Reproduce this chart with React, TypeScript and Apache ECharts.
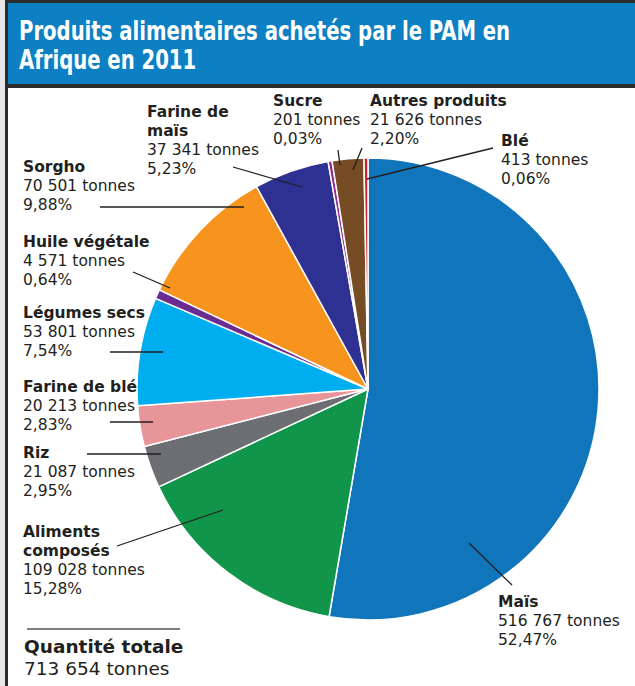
import React, { useEffect, useRef } from "react";
import * as echarts from "echarts";

// ---- Data ----
const categories = [
  "Maïs",
  "Aliments composés",
  "Riz",
  "Farine de blé",
  "Légumes secs",
  "Huile végétale",
  "Sorgho",
  "Farine de maïs",
  "Sucre",
  "Autres produits",
  "Blé",
];
const tonnes = [516767, 109028, 21087, 20213, 53801, 4571, 70501, 37341, 201, 21626, 413];
const percentages = [52.47, 15.28, 2.95, 2.83, 7.54, 0.64, 9.88, 5.23, 0.03, 2.2, 0.06];
const totalLabel = "Quantité totale";
const totalTonnes = 713654;
const titleLines = ["Produits alimentaires achetés par le PAM en", "Afrique en 2011"];

// ---- Styles / layout ----
const colors = [
  "#1175bc", "#10954a", "#6d6e71", "#e8959a", "#00aeef", "#6a2c91",
  "#f7941d", "#2e3192", "#92278f", "#754c24", "#c1272d",
];
// label top-left and leader line (inner point, outer point)
const labelLayouts: { x: number; y: number; from: number[]; to: number[]; wrap?: string[] }[] = [
  { x: 498, y: 592, from: [469, 543], to: [512, 585] },
  { x: 23, y: 522, from: [223, 510], to: [117, 546], wrap: ["Aliments", "composés"] },
  { x: 23, y: 443, from: [161, 454], to: [87, 454] },
  { x: 23, y: 377, from: [153, 422], to: [110, 422] },
  { x: 23, y: 303, from: [163, 352], to: [110, 352] },
  { x: 23, y: 232, from: [170, 288], to: [133, 272] },
  { x: 23, y: 157, from: [244, 207], to: [100, 207] },
  { x: 147, y: 102, from: [302, 187], to: [233, 167], wrap: ["Farine de", "maïs"] },
  { x: 273, y: 91, from: [340, 165], to: [338, 150] },
  { x: 370, y: 91, from: [353, 170], to: [362, 148] },
  { x: 501, y: 131, from: [367, 179], to: [493, 148] },
];

const FONT = "'DejaVu Sans', Verdana, sans-serif";
const TEXT_COLOR = "#231f20";

const fmtTonnes = (n: number) => n.toString().replace(/\B(?=(\d{3})+(?!\d))/g, " ") + " tonnes";
const fmtPct = (p: number) => p.toFixed(2).replace(".", ",") + "%";

export default function App() {
  const ref = useRef<HTMLDivElement>(null);

  useEffect(() => {
    if (!ref.current) return;
    const chart = echarts.init(ref.current, undefined, { renderer: "svg" });

    const option: any = {
      animation: false,
      backgroundColor: "#ffffff",
      graphic: [
        { type: "rect", shape: { x: 0, y: 0, width: 5, height: 686 }, style: { fill: "#e6e6e6" }, z: 1 },
        { type: "rect", shape: { x: 5, y: 0, width: 630, height: 3 }, style: { fill: "#2b2b2b" }, z: 1 },
        { type: "rect", shape: { x: 5, y: 0, width: 3, height: 686 }, style: { fill: "#2b2b2b" }, z: 1 },
        { type: "rect", shape: { x: 8, y: 3, width: 627, height: 81 }, style: { fill: "#0d80c4" }, z: 1 },
        { type: "rect", shape: { x: 5, y: 84, width: 630, height: 4 }, style: { fill: "#2b2b2b" }, z: 1 },
        ...titleLines.map((t, i) => ({
          type: "text",
          x: 19,
          y: 38 + i * 29,
          scaleX: 0.84,
          z: 2,
          style: {
            text: t,
            fill: "#ffffff",
            font: `bold 26px 'DejaVu Sans Condensed', 'DejaVu Sans', sans-serif`,
            verticalAlign: "bottom",
            y: 6,
          },
        })),
        // leader lines (drawn above the slices)
        ...labelLayouts.map((L) => ({
          type: "line",
          z: 20,
          shape: { x1: L.from[0], y1: L.from[1], x2: L.to[0], y2: L.to[1] },
          style: { stroke: TEXT_COLOR, lineWidth: 1.3 },
        })),
        {
          type: "line",
          shape: { x1: 27, y1: 629, x2: 180, y2: 629 },
          style: { stroke: "#555555", lineWidth: 1.5 },
        },
        {
          type: "text",
          x: 24,
          y: 652,
          style: {
            text: totalLabel,
            fill: TEXT_COLOR,
            font: `bold 18.5px ${FONT}`,
            verticalAlign: "bottom",
            y: 4,
          },
        },
        {
          type: "text",
          x: 24,
          y: 674,
          style: {
            text: fmtTonnes(totalTonnes),
            fill: TEXT_COLOR,
            font: `18.5px ${FONT}`,
            verticalAlign: "bottom",
            y: 4,
          },
        },
      ],
      series: [
        {
          type: "pie",
          center: [368, 389],
          radius: 231,
          startAngle: 90,
          clockwise: true,
          minAngle: 1,
          avoidLabelOverlap: false,
          itemStyle: { borderColor: "#ffffff", borderWidth: 1.5 },
          emphasis: { disabled: true },
          label: {
            show: true,
            position: "outside",
            formatter: (p: any) => {
              const i = p.dataIndex;
              const L = labelLayouts[i];
              const nameLines = L.wrap ? L.wrap : [categories[i]];
              return [
                ...nameLines.map((n) => `{b|${n}}`),
                `{r|${fmtTonnes(tonnes[i])}}`,
                `{r|${fmtPct(percentages[i])}}`,
              ].join("\n");
            },
            rich: {
              b: { fontFamily: FONT, fontWeight: "bold", fontSize: 15.5, lineHeight: 19, color: TEXT_COLOR },
              r: { fontFamily: FONT, fontSize: 15.5, lineHeight: 19, color: TEXT_COLOR },
            },
          },
          labelLine: { show: false },
          labelLayout: (params: any) => {
            const L = labelLayouts[params.dataIndex];
            return { x: L.x, y: L.y, align: "left", verticalAlign: "top" };
          },
          data: categories.map((name, i) => ({
            name,
            value: percentages[i],
            itemStyle: { color: colors[i] },
          })),
        },
      ],
    };

    chart.setOption(option);
    return () => chart.dispose();
  }, []);

  return (
    <div
      ref={ref}
      style={{ position: "absolute", left: 0, top: 0, width: 635, height: 686 }}
    />
  );
}
